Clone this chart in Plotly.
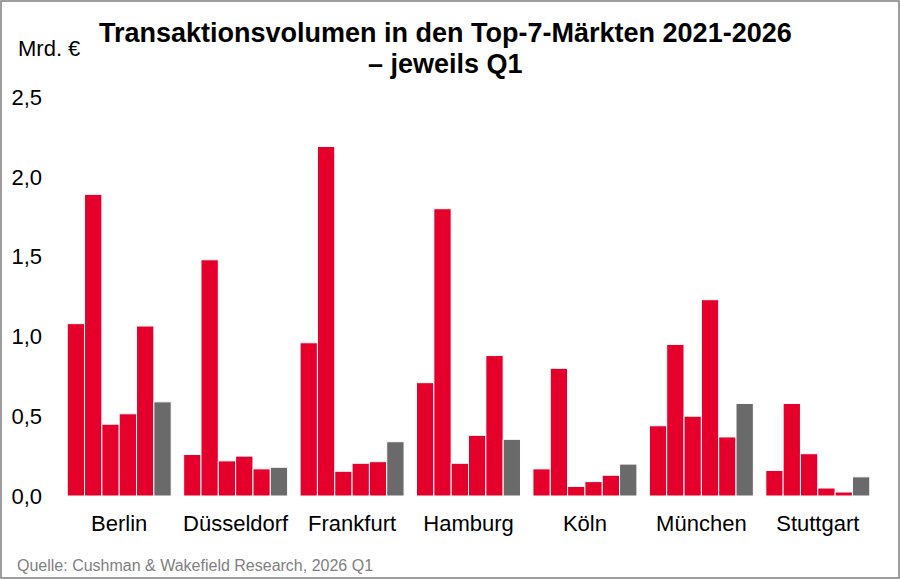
import plotly.graph_objects as go

# Data (Mrd. EUR, jeweils Q1)
CITIES = ['Berlin', 'Düsseldorf', 'Frankfurt', 'Hamburg', 'Köln', 'München', 'Stuttgart']
YEARS = ['2021', '2022', '2023', '2024', '2025', '2026']
VOL_2021 = [1.08, 0.26, 0.96, 0.71, 0.17, 0.44, 0.16]
VOL_2022 = [1.89, 1.48, 2.19, 1.80, 0.80, 0.95, 0.58]
VOL_2023 = [0.45, 0.22, 0.155, 0.205, 0.06, 0.50, 0.265]
VOL_2024 = [0.515, 0.25, 0.205, 0.38, 0.09, 1.23, 0.05]
VOL_2025 = [1.065, 0.17, 0.215, 0.88, 0.13, 0.37, 0.025]
VOL_2026 = [0.59, 0.18, 0.34, 0.355, 0.20, 0.58, 0.12]

TITLE_1 = 'Transaktionsvolumen in den Top-7-Märkten 2021-2026'
TITLE_2 = '– jeweils Q1'

RED = '#E4002B'
GREY = '#6A6A6A'
FONT = 'Arial, Liberation Sans, sans-serif'

# figure / plot area in pixels
W, H = 900, 579
M_L, M_R, M_T, M_B = 61, 24, 97, 83
PLOT_W = W - M_L - M_R
PLOT_H = H - M_T - M_B


def px_x(px):
    """Convert a horizontal pixel position to paper units."""
    return (px - M_L) / PLOT_W


def px_y(py):
    """Convert a vertical pixel position (from top) to paper units."""
    return (H - M_B - py) / PLOT_H


def _text(text, x, y, anchor, size, color='black'):
    """Return a paper-positioned annotation dict (pixel coords in)."""
    return {'text': text, 'x': px_x(x), 'y': px_y(y),
            'xref': 'paper', 'yref': 'paper', 'xanchor': anchor, 'yanchor': 'middle',
            'showarrow': False, 'font': {'size': size, 'color': color}}


series = [VOL_2021, VOL_2022, VOL_2023, VOL_2024, VOL_2025, VOL_2026]
fig = go.Figure()
for year, vals in zip(YEARS, series):
    fig.add_trace(go.Bar(
        x=CITIES, y=vals, name=year,
        marker={'color': GREY if year == '2026' else RED,
                'line': {'color': 'white', 'width': 1}},
    ))

fig.update_layout(
    width=W, height=H,
    margin={'l': M_L, 'r': M_R, 't': M_T, 'b': M_B},
    paper_bgcolor='white', plot_bgcolor='white',
    barmode='group', bargap=0.107, bargroupgap=0,
    showlegend=False,
    separators=',.',
    font={'family': FONT, 'color': 'black'},
    xaxis={
        'showline': False, 'showgrid': False, 'zeroline': False,
        'tickfont': {'size': 22}, 'ticklabelstandoff': 12,
    },
    yaxis={
        'range': [0, 2.5], 'dtick': 0.5, 'tickformat': '.1f',
        'showline': False, 'showgrid': False, 'zeroline': False,
        'tickfont': {'size': 22}, 'ticklabelstandoff': 18,
    },
    annotations=[
        _text(f'<b>{TITLE_1}</b>', 445, 33, 'center', 27),
        _text(f'<b>{TITLE_2}</b>', 445, 64, 'center', 27),
        _text('Mrd. €', 16, 48, 'left', 22),
        _text('Quelle: Cushman & Wakefield Research, 2026 Q1', 15, 565, 'left', 16, '#7F7F7F'),
    ],
    shapes=[
        {'type': 'rect', 'xref': 'paper', 'yref': 'paper',
         'x0': px_x(1), 'x1': px_x(899), 'y0': px_y(578), 'y1': px_y(1),
         'line': {'color': '#7F7F7F', 'width': 1.5}, 'fillcolor': 'rgba(0,0,0,0)'},
    ],
)

# drop the default page margin so the 900x579 figure fills the window
fig.write_html('out.html', config={'displayModeBar': False},
               post_script="document.body.style.margin = '0';")
